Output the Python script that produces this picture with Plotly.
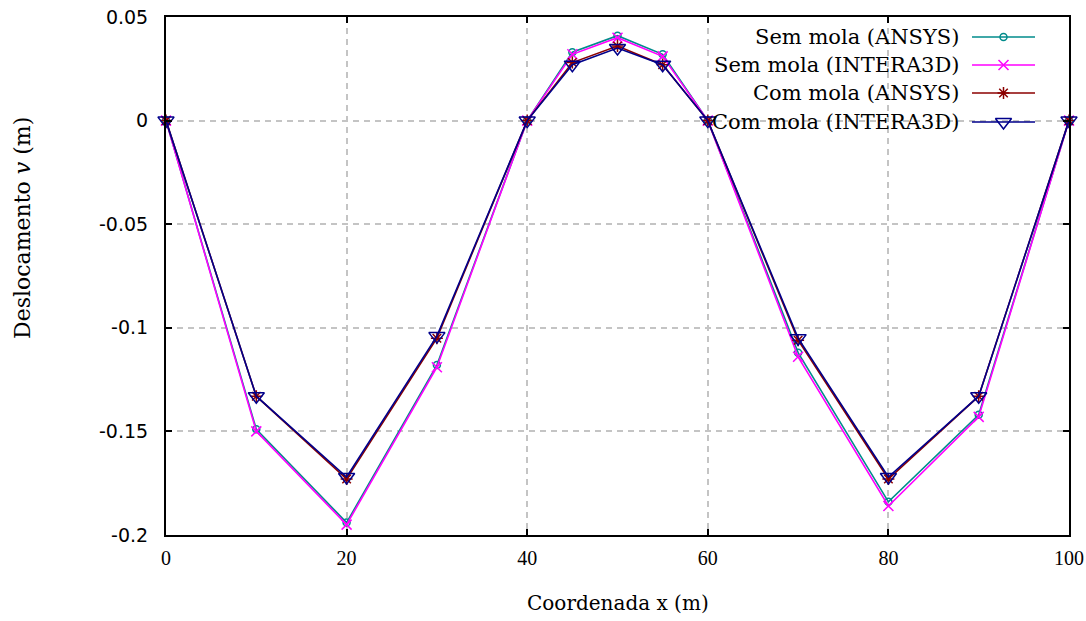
import plotly.graph_objects as go

# Coordinates along the beam (m)
x_coord = [0, 10, 20, 30, 40, 45, 50, 55, 60, 70, 80, 90, 100]

# Vertical displacement v (m) for each model
sem_mola_ansys = [0, -0.149, -0.194, -0.118, 0, 0.033, 0.041, 0.032, 0, -0.112, -0.184, -0.142, 0]
sem_mola_intera = [0, -0.150, -0.195, -0.119, 0, 0.032, 0.040, 0.031, 0, -0.114, -0.186, -0.143, 0]
com_mola_ansys = [0, -0.133, -0.173, -0.105, 0, 0.028, 0.036, 0.027, 0, -0.106, -0.173, -0.133, 0]
com_mola_intera = [0, -0.133, -0.172, -0.104, 0, 0.027, 0.035, 0.027, 0, -0.105, -0.172, -0.133, 0]

series_names = ["Sem mola (ANSYS)", "Sem mola (INTERA3D)", "Com mola (ANSYS)", "Com mola (INTERA3D)"]
series_values = [sem_mola_ansys, sem_mola_intera, com_mola_ansys, com_mola_intera]
series_colors = ["#008b8b", "#ff00ff", "#8b0000", "#00008b"]
series_symbols = ["circle-open", "x-thin-open", "asterisk-open", "triangle-down-open"]
series_sizes = [7, 10, 10, 14]

x_ticks = [0, 20, 40, 60, 80, 100]
y_ticks = [0.05, 0, -0.05, -0.1, -0.15, -0.2]
y_tick_text = ["0.05", "0", "-0.05", "-0.1", "-0.15", "-0.2"]

W, H = 1086, 621
ML, MR, MT, MB = 166, 17, 17, 86
PW, PH = W - ML - MR, H - MT - MB


def px_to_paper_x(px):
    return (px - ML) / PW


def px_to_paper_y(py):
    return (H - MB - py) / PH


fig = go.Figure()

for name, vals, col, sym, size in zip(series_names, series_values, series_colors, series_symbols, series_sizes):
    fig.add_trace(go.Scatter(
        x=x_coord, y=vals, mode="lines+markers", name=name,
        line=dict(color=col, width=1.6),
        marker=dict(symbol=sym, size=size, color=col, line=dict(color=col, width=1.5)),
        cliponaxis=False, showlegend=False,
    ))

shapes = []
annotations = []

# Key box: opaque background hiding the grid behind the entries
shapes.append(dict(type="rect", xref="paper", yref="paper", layer="between",
                   x0=px_to_paper_x(672), x1=px_to_paper_x(1066),
                   y0=px_to_paper_y(140), y1=1.0,
                   fillcolor="white", line=dict(width=0)))

key_text_right = 961
key_line = (972, 1035)
key_rows = [37, 65, 93, 122]
key_x, key_y = [], []
for name, col, py in zip(series_names, series_colors, key_rows):
    annotations.append(dict(text=name, xref="paper", yref="paper",
                            x=px_to_paper_x(key_text_right), y=px_to_paper_y(py),
                            xanchor="right", yanchor="middle", showarrow=False,
                            font=dict(family="DejaVu Serif", size=21, color="black")))
    shapes.append(dict(type="line", xref="paper", yref="paper",
                       x0=px_to_paper_x(key_line[0]), x1=px_to_paper_x(key_line[1]),
                       y0=px_to_paper_y(py), y1=px_to_paper_y(py),
                       line=dict(color=col, width=1.6)))
    key_x.append(px_to_paper_x((key_line[0] + key_line[1]) / 2))
    key_y.append(px_to_paper_y(py))

# Key symbols on an overlay axis spanning the plot area in paper units
for i, (col, sym, size) in enumerate(zip(series_colors, series_symbols, series_sizes)):
    fig.add_trace(go.Scatter(
        x=[key_x[i]], y=[key_y[i]], xaxis="x2", yaxis="y2", mode="markers",
        marker=dict(symbol=sym, size=size, color=col, line=dict(color=col, width=1.5)),
        showlegend=False, hoverinfo="skip", cliponaxis=False,
    ))

# Axis titles
annotations.append(dict(text="Coordenada x (m)", xref="paper", yref="paper",
                        x=0.5, y=px_to_paper_y(603), xanchor="center", yanchor="middle",
                        showarrow=False, font=dict(family="DejaVu Serif", size=20, color="black")))
annotations.append(dict(text="Deslocamento <i>v</i> (m)", xref="paper", yref="paper",
                        x=px_to_paper_x(23), y=px_to_paper_y(228), xanchor="center", yanchor="middle",
                        textangle=-90, showarrow=False,
                        font=dict(family="DejaVu Serif", size=22, color="black")))

axis_common = dict(
    showline=True, linecolor="black", linewidth=2, mirror="ticks",
    ticks="inside", ticklen=6, tickwidth=1.5, tickcolor="black",
    showgrid=True, gridcolor="#c4c4c4", gridwidth=1.5, griddash="6px,5px",
    zeroline=False, automargin=False,
)

fig.update_layout(
    width=W, height=H,
    margin=dict(l=ML, r=MR, t=MT, b=MB, autoexpand=False),
    paper_bgcolor="white", plot_bgcolor="white",
    xaxis=dict(range=[0, 100], tickvals=x_ticks, ticktext=[str(v) for v in x_ticks],
               tickfont=dict(family="Liberation Serif", size=20, color="black"),
               ticklabelstandoff=4, **axis_common),
    yaxis=dict(range=[-0.2, 0.05], tickvals=y_ticks, ticktext=y_tick_text,
               tickfont=dict(family="DejaVu Sans", size=19, color="black"),
               ticklabelstandoff=12, **axis_common),
    xaxis2=dict(overlaying="x", range=[0, 1], visible=False, showgrid=False, zeroline=False),
    yaxis2=dict(overlaying="y", range=[0, 1], visible=False, showgrid=False, zeroline=False),
    shapes=shapes,
    annotations=annotations,
    showlegend=False,
)

fig.write_html("out.html")
